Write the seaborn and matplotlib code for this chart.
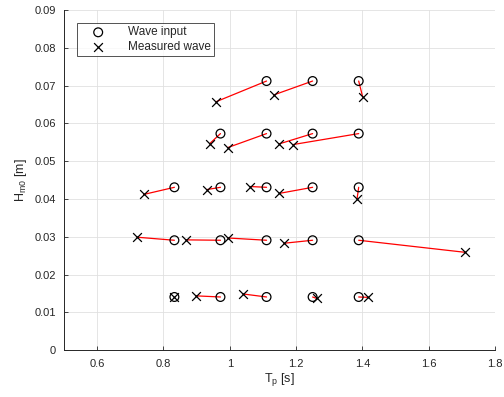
import matplotlib
matplotlib.use("Agg")
import matplotlib.pyplot as plt
import seaborn as sns
import pandas as pd
import numpy as np

# Input wave (target) periods and heights
input_tp = [1.111, 1.250, 1.389,
            0.972, 1.111, 1.250, 1.389,
            0.833, 0.972, 1.111, 1.250, 1.389,
            0.833, 0.972, 1.111, 1.250, 1.389,
            0.833, 0.972, 1.111, 1.250, 1.389]
input_hm0 = [0.0712, 0.0712, 0.0712,
             0.0573, 0.0573, 0.0573, 0.0573,
             0.0431, 0.0431, 0.0431, 0.0431, 0.0431,
             0.0291, 0.0291, 0.0291, 0.0291, 0.0291,
             0.0141, 0.0141, 0.0141, 0.0141, 0.0141]
# Measured waves
meas_tp = [0.958, 1.132, 1.401,
           0.939, 0.994, 1.150, 1.191,
           0.740, 0.931, 1.062, 1.150, 1.384,
           0.721, 0.868, 0.994, 1.163, 1.711,
           0.831, 0.898, 1.040, 1.263, 1.418]
meas_hm0 = [0.0657, 0.0675, 0.0670,
            0.0546, 0.0536, 0.0546, 0.0544,
            0.0412, 0.0425, 0.0433, 0.0415, 0.0400,
            0.0299, 0.0292, 0.0297, 0.0283, 0.0259,
            0.0141, 0.0144, 0.0149, 0.0137, 0.0140]

sns.set_style("whitegrid")
plt.rcParams['font.family'] = ['Liberation Sans', 'DejaVu Sans']
plt.rcParams['mathtext.fontset'] = 'custom'
plt.rcParams['mathtext.rm'] = 'Liberation Sans'

n = len(input_tp)
lines = pd.DataFrame({
    "pair": list(range(n)) * 2,
    "order": [0] * n + [1] * n,
    "Tp": input_tp + meas_tp,
    "Hm0": input_hm0 + meas_hm0,
})
inp = pd.DataFrame({"Tp": input_tp, "Hm0": input_hm0})
mea = pd.DataFrame({"Tp": meas_tp, "Hm0": meas_hm0})

fig = plt.figure(figsize=(5.04, 3.97), dpi=100)
ax = fig.add_axes([0.127, 0.1176, 0.855, 0.8574])

sns.lineplot(data=lines, x="Tp", y="Hm0", units="pair", estimator=None,
             sort=False, color="red", linewidth=0.9, ax=ax, legend=False)
sns.scatterplot(data=inp, x="Tp", y="Hm0", marker="o", s=40,
                facecolors="none", edgecolors="black", linewidth=0.9,
                ax=ax, label="Wave input", zorder=3)
sns.scatterplot(data=mea, x="Tp", y="Hm0", marker="x", s=40,
                color="black", linewidth=0.9, ax=ax,
                label="Measured wave", zorder=3)

ax.set_xlim(0.5, 1.8)
ax.set_ylim(0, 0.09)
ax.set_xticks([0.6, 0.8, 1.0, 1.2, 1.4, 1.6, 1.8])
ax.set_xticklabels(["0.6", "0.8", "1", "1.2", "1.4", "1.6", "1.8"])
ax.set_yticks(np.arange(0, 0.0901, 0.01))
ax.set_yticklabels(["0"] + ["%.2f" % v for v in np.arange(0.01, 0.0901, 0.01)])
ax.tick_params(axis="both", direction="in", length=3, width=0.6,
               colors="#262626", labelsize=8, labelcolor="#262626",
               bottom=True, left=True, top=False, right=False, pad=6)
ax.grid(True, color="#e0e0e0", linewidth=0.6)
for s in ["top", "right"]:
    ax.spines[s].set_visible(False)
for s in ["left", "bottom"]:
    ax.spines[s].set_color("#262626")
    ax.spines[s].set_linewidth(0.7)

ax.set_xlabel(r"T$_\mathregular{p}$ [s]", fontsize=9, color="#262626", labelpad=2)
ax.set_ylabel(r"H$_\mathregular{m0}$ [m]", fontsize=9, color="#262626", labelpad=4)

leg = ax.legend(loc="upper left", bbox_to_anchor=(0.03, 0.962), borderaxespad=0,
                fontsize=8.5, frameon=True, fancybox=False, edgecolor="#262626",
                borderpad=0.3, handletextpad=1.0, labelspacing=0.2,
                handlelength=3.0)
leg.get_frame().set_linewidth(0.7)

fig.savefig("out.png", dpi=100)
